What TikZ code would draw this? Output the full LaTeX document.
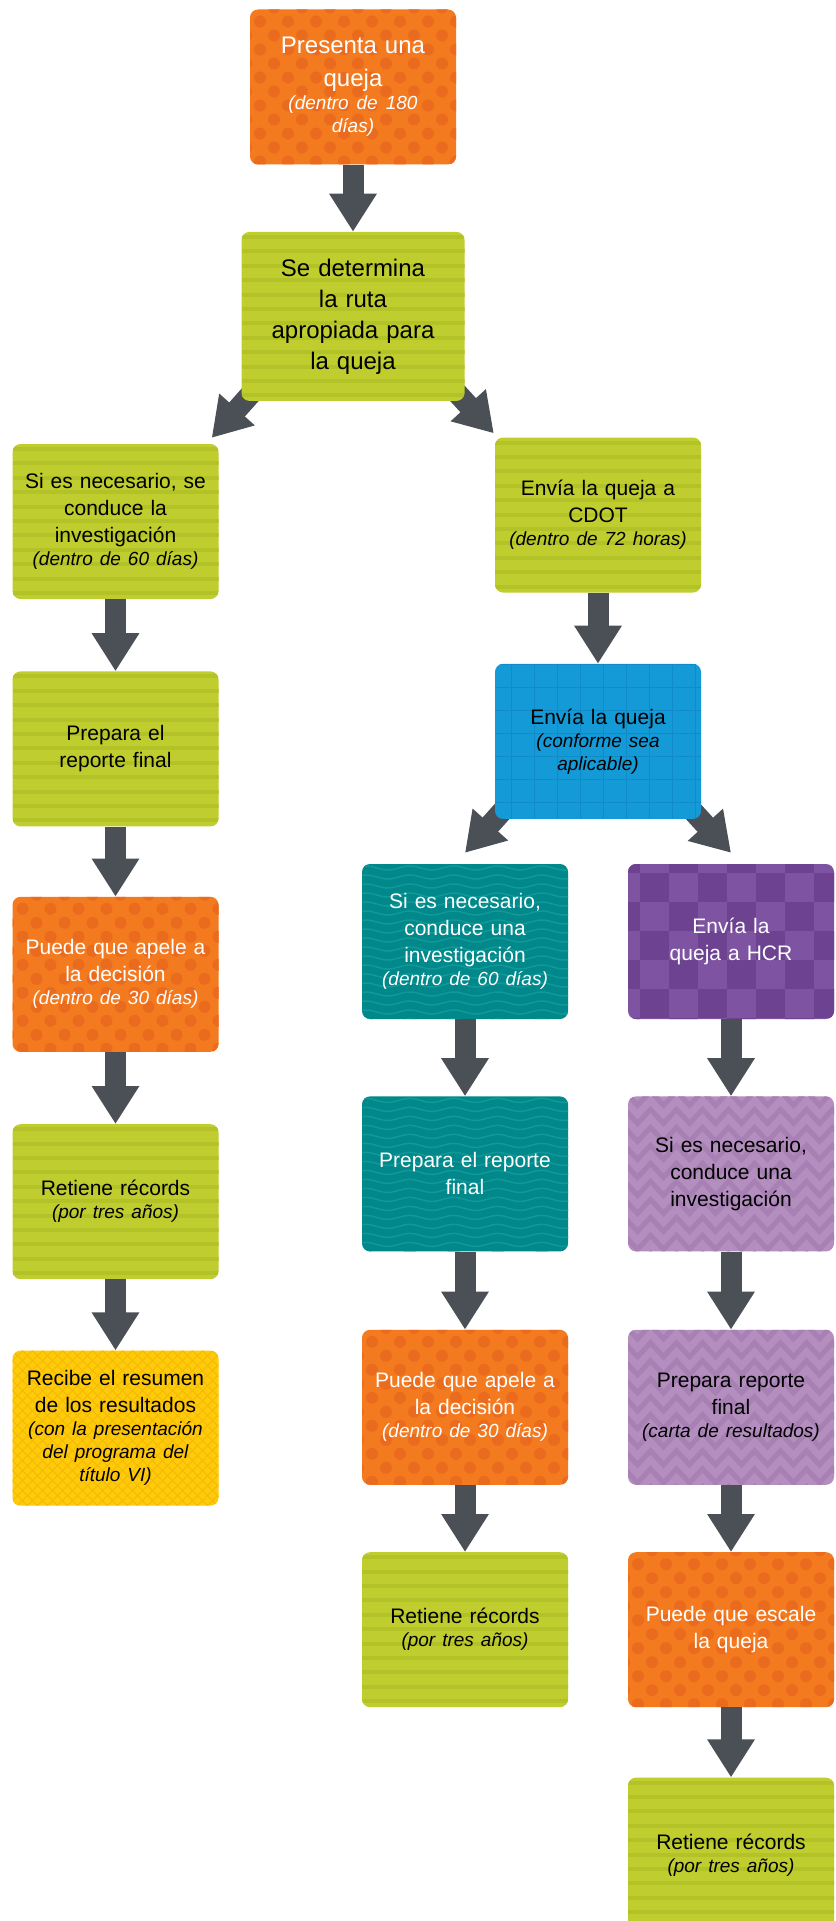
\documentclass[tikz,border=0pt]{standalone}
\usepackage{fontspec}
\setmainfont{Liberation Sans}
\usepackage{tikz}
\usetikzlibrary{positioning, calc, arrows.meta, backgrounds, decorations.pathmorphing}

\definecolor{qorange}{HTML}{F47A20}
\definecolor{qorangedk}{HTML}{EA6B1E}
\definecolor{qgreen}{HTML}{BFCD2E}
\definecolor{qgreendk}{HTML}{B3C226}
\definecolor{qblue}{HTML}{149BD7}
\definecolor{qbluedk}{HTML}{108BC8}
\definecolor{qteal}{HTML}{00888A}
\definecolor{qtealdk}{HTML}{119898}
\definecolor{qplum}{HTML}{7E53A1}
\definecolor{qplumdk}{HTML}{6D4391}
\definecolor{qlilac}{HTML}{B38EBF}
\definecolor{qlilacdk}{HTML}{A781B4}
\definecolor{qyellow}{HTML}{FFCA0A}
\definecolor{qyellowdk}{HTML}{F0B800}
\definecolor{qarrow}{HTML}{4B4F56}

\newcommand{\plazo}[1]{\par{\fontsize{19}{23}\selectfont\itshape #1\par}}

\begin{document}
\begin{tikzpicture}[
    x = 1pt, y = -1pt,
    box/.style = {rectangle, rounded corners = 8pt, minimum width = 206pt, minimum height = 155pt,
                  text width = 200pt, align = center, inner sep = 0pt, font = \fontsize{21}{27}\selectfont},
    bigtext/.style = {font = \fontsize{24}{33}\selectfont},
    flow/.style = {draw = qarrow, line width = 21pt, -{Triangle[length = 38pt, width = 45pt]}},
    % each box colour has its own small pattern drawn inside it
    dotbox/.style = {box, fill = qorange, text = white, path picture = {
        \foreach \i in {0,...,12} \foreach \j in {0,...,8}
          \fill[qorangedk] ($(path picture bounding box.north west) + ({\j*28 + 14*mod(\i,2) - 4}, {\i*14 - 2})$) circle (6pt);}},
    stripebox/.style = {box, fill = qgreen, text = black, path picture = {
        \foreach \i in {0,...,12}
          \fill[qgreendk, sharp corners] ($(path picture bounding box.north west) + (0, {\i*14.4 + 3})$) rectangle ++(230, 4);}},
    gridbox/.style = {box, fill = qblue, text = black, path picture = {
        \foreach \i in {0,...,9}
          \draw[qbluedk, line width = 1pt] ($(path picture bounding box.north west) + (\i*23 - 7, 0)$) -- ++(0, 160);
        \foreach \i in {0,...,7}
          \draw[qbluedk, line width = 1pt] ($(path picture bounding box.north west) + (0, \i*23 + 1)$) -- ++(210, 0);}},
    wavebox/.style = {box, fill = qteal, text = white, path picture = {
        \foreach \i in {0,...,17}
          \draw[qtealdk, line width = 1.5pt, sharp corners, decorate, decoration = {snake, segment length = 44pt, amplitude = 2pt}]
            ($(path picture bounding box.north west) + (-10, {\i*9 + 4})$) -- ++(240, 0);}},
    checkbox/.style = {box, fill = qplum, text = white, path picture = {
        \foreach \i in {0,...,6} \foreach \j in {0,2,...,8}
          \fill[qplumdk, sharp corners] ($(path picture bounding box.north west) + ({(\j + mod(\i,2))*29 - 17}, {\i*29 - 20})$) rectangle ++(29, 29);}},
    weavebox/.style = {box, fill = qlilac, text = black, path picture = {
        \foreach \i in {0,...,9}
          \draw[qlilacdk, line width = 5pt, sharp corners, decorate, decoration = {zigzag, segment length = 26pt, amplitude = 7pt}]
            ($(path picture bounding box.north west) + (-10, {\i*18 + 2})$) -- ++(240, 0);}},
    hatchbox/.style = {box, fill = qyellow, text = black, path picture = {
        \foreach \i in {-17,...,37} {
          \draw[qyellowdk, line width = 0.8pt] ($(path picture bounding box.north west) + (\i*10, 0)$) -- ++(160, 160);
          \draw[qyellowdk, line width = 0.8pt] ($(path picture bounding box.north west) + (\i*10, 0)$) -- ++(-160, 160);}}},
    ]

    \path [use as bounding box, clip] (0, 0) rectangle (835, 1921);

    \node [dotbox, bigtext] (queja) at (353, 87) {Presenta una\\queja\plazo{(dentro de 180\\días)}};
    \node [stripebox, minimum width = 223pt, minimum height = 169pt, font = \fontsize{24}{31}\selectfont]
          (ruta) [below = 67pt of queja] {Se determina\\la ruta\\apropiada para\\la queja};

    % left column
    \node [stripebox] (inv)   at (115.5, 521.5)         {Si es necesario, se\\conduce la\\investigación\plazo{(dentro de 60 días)}};
    \node [stripebox] (rep)   [below = 72pt of inv]     {Prepara el\\reporte final};
    \node [dotbox]    (apela) [below = 70pt of rep]     {Puede que apele a\\la decisión\plazo{(dentro de 30 días)}};
    \node [stripebox] (rec)   [below = 72pt of apela]   {Retiene récords\plazo{(por tres años)}};
    \node [hatchbox]  (res)   [below = 71pt of rec]     {Recibe el resumen\\de los resultados\plazo{(con la presentación\\del programa del\\título VI)}};

    % CDOT
    \node [stripebox] (cdot)  at (598, 515)             {Envía la queja a\\CDOT\plazo{(dentro de 72 horas)}};
    \node [gridbox]   (envia) [below = 71pt of cdot]    {Envía la queja\plazo{(conforme sea\\aplicable)}};

    \node [wavebox]   (cinv)   at (465, 941.5)          {Si es necesario,\\conduce una\\investigación\plazo{(dentro de 60 días)}};
    \node [wavebox]   (crep)   [below = 77pt of cinv]   {Prepara el reporte\\final};
    \node [dotbox]    (capela) [below = 78pt of crep]   {Puede que apele a\\la decisión\plazo{(dentro de 30 días)}};
    \node [stripebox] (crec)   [below = 67pt of capela] {Retiene récords\plazo{(por tres años)}};

    % HCR
    \node [checkbox]  (hcr)    at (731, 941.5)          {Envía la\\queja a HCR};
    \node [weavebox]  (hinv)   [below = 77pt of hcr]    {Si es necesario,\\conduce una\\investigación};
    \node [weavebox]  (hrep)   [below = 78pt of hinv]   {Prepara reporte\\final\plazo{(carta de resultados)}};
    \node [dotbox]    (escala) [below = 67pt of hrep]   {Puede que escale\\la queja};
    \node [stripebox] (hrec)   [below = 70pt of escala] {Retiene récords\plazo{(por tres años)}};

    % straight arrows
    \draw [flow] (queja) -- (ruta);
    \draw [flow] (inv) -- (rep);
    \draw [flow] (rep) -- (apela);
    \draw [flow] (apela) -- (rec);
    \draw [flow] (rec) -- (res);
    \draw [flow] (cdot) -- (envia);
    \draw [flow] (cinv) -- (crep);
    \draw [flow] (crep) -- (capela);
    \draw [flow] (capela) -- (crec);
    \draw [flow] (hcr) -- (hinv);
    \draw [flow] (hinv) -- (hrep);
    \draw [flow] (hrep) -- (escala);
    \draw [flow] (escala) -- (hrec);

    % slanted arrows start under the boxes
    \begin{scope}[on background layer]
      \draw [flow] ($(ruta.south west) + (22, -21)$) -- ($(inv.north east) + (-7, -6)$);
      \draw [flow] ($(ruta.south east) + (-23, -25)$) -- ($(cdot.north west) + (-1, -4)$);
      \draw [flow] ($(envia.south west) + (22, -24)$) -- ($(cinv.north) + (0, -11)$);
      \draw [flow] ($(envia.south east) + (-23, -24)$) -- ($(hcr.north) + (0, -11)$);
    \end{scope}
\end{tikzpicture}
\end{document}
